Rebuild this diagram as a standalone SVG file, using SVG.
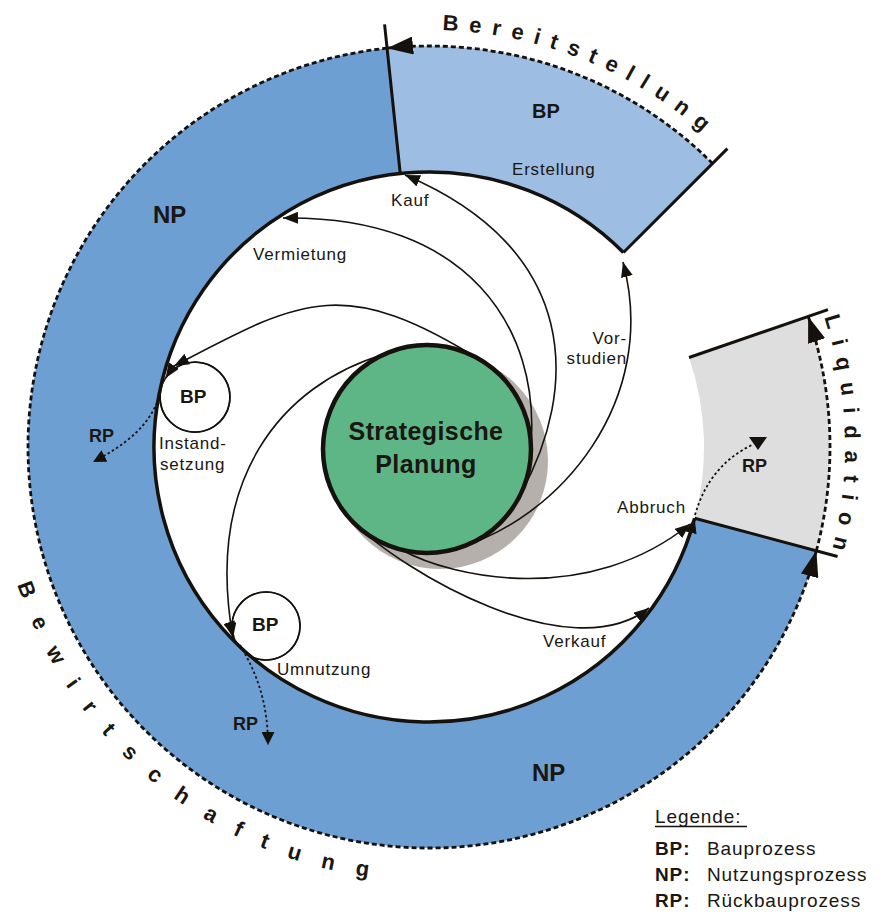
<svg xmlns="http://www.w3.org/2000/svg" width="883" height="912" viewBox="0 0 883 912">
<style>
text{font-family:"Liberation Sans",Arial,sans-serif;fill:#1a1612}
.l{font-size:17px;letter-spacing:0.8px}
.b{font-weight:bold}
.lg{font-size:19px;letter-spacing:0.9px}
.t{font-size:22px;font-weight:bold}
.thin{fill:none;stroke:#15110d;stroke-width:1.6}
.thick{fill:none;stroke:#15110d;stroke-width:3.5}
.rad{fill:none;stroke:#15110d;stroke-width:3}
.dash{fill:none;stroke:#15110d;stroke-width:2.8;stroke-dasharray:5 3}
.dot{fill:none;stroke:#15110d;stroke-width:1.8;stroke-dasharray:2.5 2.5}
</style>
<defs>
<marker id="ah" viewBox="0 0 15 12" refX="15" refY="6" markerWidth="15" markerHeight="12" markerUnits="userSpaceOnUse" orient="auto"><path d="M0,0 L15,6 L0,12 z" fill="#15110d"/></marker>
<marker id="big" viewBox="0 0 26 18" refX="26" refY="9" markerWidth="26" markerHeight="18" markerUnits="userSpaceOnUse" orient="auto"><path d="M0,0 L26,9 L0,18 z" fill="#15110d"/></marker>
<marker id="rp" viewBox="0 0 13 13" refX="13" refY="6.5" markerWidth="13" markerHeight="13" markerUnits="userSpaceOnUse" orient="auto"><path d="M0,0 L13,6.5 L0,13 z" fill="#15110d"/></marker>
<path id="pBer" d="M 414.45 30.25 A 417 417 0 0 1 748.4 179.0"/>
<path id="pLiq" d="M 806.0 271.2 A 416 416 0 0 1 819.9 589.3"/>
<path id="pBew" d="M 9.79 559.33 A 434 434 0 0 0 413.85 880.74"/>
</defs>
<rect width="883" height="912" fill="#ffffff"/>

<g id="ring">
<path id="sector-np" d="M 694.63 518.18 L 816.34 550.79 A 401 401 0 1 1 387.08 48.20 L 400.25 173.51 A 275 275 0 1 0 694.63 518.18 Z" fill="#6e9fd3"/>
<path id="sector-bereitstellung" d="M 400.25 173.51 L 387.08 48.20 A 401 401 0 0 1 712.55 163.45 L 623.45 252.55 A 275 275 0 0 0 400.25 173.51 Z" fill="#9dbde2"/>
<path id="sector-liquidation" d="M 689.02 357.47 L 808.15 316.45 A 401 401 0 0 1 816.34 550.79 L 694.63 518.18 A 275 275 0 0 0 689.02 357.47 Z" fill="#dedede"/>
</g>

<g id="connectors">
<path class="dash" d="M 712.55 163.45 A 401 401 0 0 0 387.08 48.20" marker-end="url(#big)"/>
<path class="dash" d="M 387.08 48.20 A 401 401 0 1 0 816.34 550.79" marker-end="url(#big)"/>
<path class="dash" d="M 816.34 550.79 A 401 401 0 0 0 808.15 316.45" marker-end="url(#big)"/>
<path class="thick" d="M 623.45 252.55 A 275 275 0 1 0 694.63 518.18" marker-end="url(#ah)"/>
<line class="rad" x1="400.25" y1="173.51" x2="384.58" y2="24.33"/>
<line class="rad" x1="623.45" y1="252.55" x2="727.4" y2="148.6"/>
<line class="rad" x1="689.02" y1="357.47" x2="828.01" y2="309.61"/>
<line class="rad" x1="694.63" y1="518.18" x2="837.58" y2="556.48"/>
<circle cx="440" cy="461" r="108" fill="#b5b0ac"/>
<path class="thin" d="M 454 549 C 560 520, 660 400, 623 262" marker-end="url(#ah)"/>
<path class="thin" d="M 521 493 C 578 390, 582 250, 405 175" marker-end="url(#ah)"/>
<path class="thin" d="M 531 445 C 540 330, 470 215, 283 218" marker-end="url(#ah)"/>
<path class="thin" d="M 482 361 C 342 273, 300 300, 174 366" marker-end="url(#ah)"/>
<path class="thin" d="M 385 354 C 280 385, 205 480, 233 638" marker-end="url(#ah)"/>
<path class="thin" d="M 353 522 C 403 572, 570 670, 649 608" marker-end="url(#ah)"/>
<path class="thin" d="M 400 549 C 455 580, 590 605, 690 524" marker-end="url(#ah)"/>
<path class="thin" d="M 160.3 392.1 A 35 35 0 1 0 165.6 378.1" marker-end="url(#ah)"/>
<path class="thin" d="M 244.1 652 A 34 34 0 1 0 233.7 636.5" marker-end="url(#ah)"/>
<path class="dot" d="M 160 393 C 152 425, 125 445, 93 462" marker-end="url(#rp)"/>
<path class="dot" d="M 240 645 C 258 675, 268 705, 268 745" marker-end="url(#rp)"/>
<path class="dot" d="M 695 515 C 705 480, 725 458, 752 445"/>
<polygon points="749,437 767,437 758,450" fill="#15110d"/>
</g>

<g id="node-strategie">
<circle cx="427" cy="449" r="104" fill="#5eb585" stroke="#15110d" stroke-width="4.5"/>
<text class="b" font-size="25" text-anchor="middle" x="426" y="440" letter-spacing="0.4">Strategische</text>
<text class="b" font-size="25" text-anchor="middle" x="426" y="473" letter-spacing="0.4">Planung</text>
</g>

<g id="node-bp-instand">
<circle cx="195" cy="397" r="35" fill="none" stroke="#15110d" stroke-width="1.6"/>
<text class="b" font-size="19" x="180" y="403">BP</text>
</g>
<g id="node-bp-umnutzung">
<circle cx="266" cy="626" r="34" fill="none" stroke="#15110d" stroke-width="1.6"/>
<text class="b" font-size="19" x="252" y="631">BP</text>
</g>

<g id="labels">
<text class="b" font-size="20" x="532" y="118">BP</text>
<text class="b" font-size="24" x="153" y="223">NP</text>
<text class="b" font-size="24" x="532" y="781">NP</text>
<text class="l" x="512" y="175">Erstellung</text>
<text class="l" x="391" y="206">Kauf</text>
<text class="l" x="253" y="260">Vermietung</text>
<text class="l" x="627" y="344" text-anchor="end">Vor-</text>
<text class="l" x="627" y="364" text-anchor="end">studien</text>
<text class="l" x="617" y="513">Abbruch</text>
<text class="l" x="543" y="647">Verkauf</text>
<text class="l" x="277" y="675">Umnutzung</text>
<text class="l" x="159" y="449">Instand-</text>
<text class="l" x="160" y="470">setzung</text>
<text class="b" font-size="18" x="89" y="442">RP</text>
<text class="b" font-size="18" x="233" y="730">RP</text>
<text class="b" font-size="18" x="742" y="472">RP</text>
</g>

<g id="phase-titles">
<text class="t" letter-spacing="10.6"><textPath href="#pBer" startOffset="27.7">Bereitstellung</textPath></text>
<text class="t" letter-spacing="11.6"><textPath href="#pLiq" startOffset="49.4">Liquidation</textPath></text>
<text class="t" font-size="23" letter-spacing="22"><textPath href="#pBew" startOffset="26.5">Bewirtschaftung</textPath></text>
</g>

<g id="legend">
<text class="lg" x="655" y="823">Legende:</text>
<line x1="655" y1="826.5" x2="747" y2="826.5" stroke="#15110d" stroke-width="1.5"/>
<text class="lg b" x="655" y="855">BP:</text>
<text class="lg" x="707" y="855">Bauprozess</text>
<text class="lg b" x="655" y="881">NP:</text>
<text class="lg" x="707" y="881">Nutzungsprozess</text>
<text class="lg b" x="655" y="907">RP:</text>
<text class="lg" x="707" y="907">Rückbauprozess</text>
</g>
</svg>
